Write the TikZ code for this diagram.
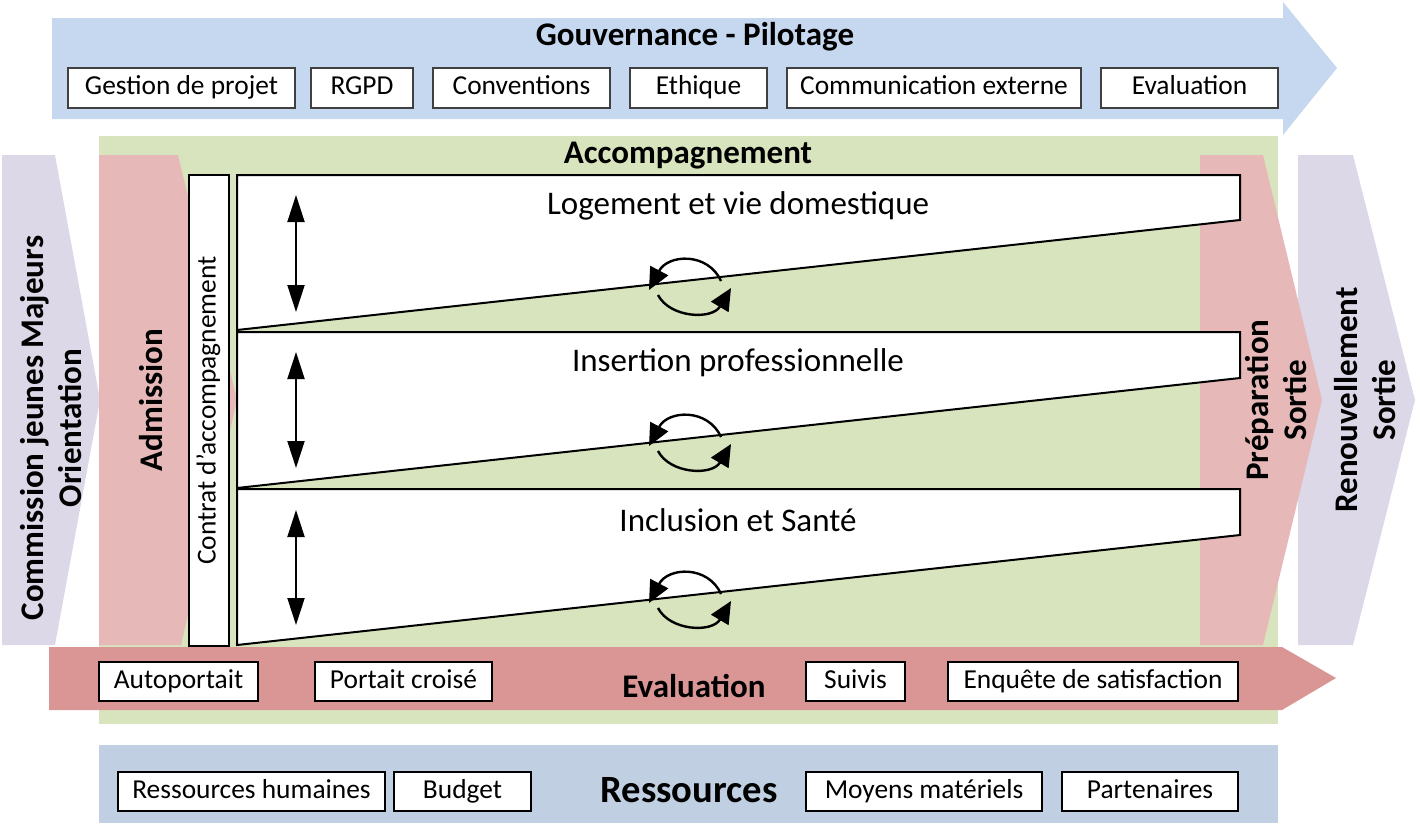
\documentclass[tikz,border=0pt]{standalone}
\usepackage{fontspec}
\setmainfont{Carlito}
\usetikzlibrary{arrows.meta}

\definecolor{govblue}{HTML}{C6D8EF}
\definecolor{accgreen}{HTML}{D7E4BD}
\definecolor{admred}{HTML}{E6B9B8}
\definecolor{orilav}{HTML}{DCD8E7}
\definecolor{evalred}{HTML}{D99694}
\definecolor{resblue}{HTML}{C1CFE2}

\tikzset{
	topbox/.style={draw=black!75, fill=white, line width=0.6pt, minimum height=20pt, inner sep=0pt, text height=9.6pt, text depth=2.9pt, font=\fontsize{13.7}{16}\selectfont},
	itembox/.style={draw=black, fill=white, line width=0.9pt, minimum height=19.5pt, inner sep=0pt, text height=9.6pt, text depth=2.9pt, font=\fontsize{13.7}{16}\selectfont},
	lane/.style={draw=black, fill=white, line width=1pt, line join=miter},
	title/.style={font=\bfseries\fontsize{16.5}{19}\selectfont, inner sep=0pt},
	sidetitle/.style={font=\bfseries\fontsize{16.5}{19}\selectfont, rotate=90, align=center, inner sep=0pt},
	lanetext/.style={font=\fontsize{16.5}{19}\selectfont, inner sep=0pt},
	dblarrow/.style={{Triangle[width=8.5pt,length=13.5pt]}-{Triangle[width=8.5pt,length=13.5pt]}, line width=1pt},
	cycarrow/.style={-{Triangle[width=10pt,length=11pt]}, line width=1.2pt}
}

\begin{document}
\begin{tikzpicture}[x=0.5pt,y=-0.5pt]
	\useasboundingbox (0,0) rectangle (1423,831);
	
	% Gouvernance
	\fill[govblue] (52,18) -- (1283,18) -- (1283,2) -- (1337,68) -- (1283,135) -- (1283,119) -- (52,119) -- cycle;
	\node[title] (gouv) at (695,37) {Gouvernance - Pilotage};
	\node[topbox, minimum width=113.5pt] (gestion) at (181.5,88) {Gestion de projet};
	\node[topbox, minimum width=51pt] (rgpd) at (362,88) {RGPD};
	\node[topbox, minimum width=88.5pt] (conv) at (521.5,88) {Conventions};
	\node[topbox, minimum width=68.5pt] (ethique) at (698.5,88) {Ethique};
	\node[topbox, minimum width=147pt] (comm) at (934,88) {Communication externe};
	\node[topbox, minimum width=88.5pt] (evalgouv) at (1189.5,88) {Evaluation};
	
	% Accompagnement
	\fill[accgreen] (99,136) rectangle (1278,724);
	\node[title] (accomp) at (688,156) {Accompagnement};
	
	% entree et sortie
	\fill[orilav] (2,155) -- (55,155) -- (100,400) -- (55,645) -- (2,645) -- cycle;
	\fill[admred] (99,155) -- (178,155) -- (237,400) -- (181,645) -- (99,645) -- cycle;
	\fill[orilav] (1298,155) -- (1353,155) -- (1415,400) -- (1353,645) -- (1298,645) -- cycle;
	\fill[admred] (1200,155) -- (1263,155) -- (1322,400) -- (1263,645) -- (1200,645) -- cycle;
	\node[sidetitle] (orient) at (51,428) {Commission jeunes Majeurs\\Orientation};
	\node[sidetitle] (admis) at (151,400) {Admission};
	\node[sidetitle] (prep) at (1276,400) {Préparation\\Sortie};
	\node[sidetitle] (renouv) at (1365,400) {Renouvellement\\Sortie};
	
	% Evaluation
	\fill[evalred] (49,647) -- (1282,647) -- (1336,678) -- (1282,710) -- (49,710) -- cycle;
	\node[title] (evalacc) at (694,686) {Evaluation};
	\node[itembox, minimum width=79.5pt] (auto) at (178.5,681.5) {Autoportait};
	\node[itembox, minimum width=88.5pt] (croise) at (403.5,681.5) {Portait croisé};
	\node[itembox, minimum width=49.5pt] (suivis) at (855.5,681.5) {Suivis};
	\node[itembox, minimum width=145pt] (enquete) at (1093,681.5) {Enquête de satisfaction};
	
	% Ressources
	\fill[resblue] (99,745) rectangle (1278,823);
	\node[font=\bfseries\fontsize{19.3}{22}\selectfont, inner sep=0pt] (ress) at (689,790) {Ressources};
	\node[itembox, minimum width=133.5pt] (rh) at (251.5,791.5) {Ressources humaines};
	\node[itembox, minimum width=68.5pt] (budget) at (462.5,791.5) {Budget};
	\node[itembox, minimum width=118pt] (moyens) at (924,791.5) {Moyens matériels};
	\node[itembox, minimum width=88pt] (parten) at (1150,791.5) {Partenaires};
	
	% contrat et axes
	\node[itembox, rotate=90, minimum width=235.5pt, minimum height=20pt] (contrat) at (209,410.5) {Contrat d’accompagnement};
	
	\draw[lane] (237,175) -- (1240,175) -- (1240,220) -- (237,330) -- cycle;
	\draw[lane] (237,332) -- (1240,332) -- (1240,378) -- (237,488) -- cycle;
	\draw[lane] (237,489) -- (1240,489) -- (1240,535) -- (237,645) -- cycle;
	\node[lanetext] (logement) at (738,206) {Logement et vie domestique};
	\node[lanetext] (insertion) at (738,363) {Insertion professionnelle};
	\node[lanetext] (inclusion) at (738,520) {Inclusion et Santé};
	
	\coordinate (logtop) at (296,195);
	\coordinate (logbot) at (296,312);
	\coordinate (instop) at (296,352);
	\coordinate (insbot) at (296,468);
	\coordinate (inctop) at (296,510);
	\coordinate (incbot) at (296,625);
	\draw[dblarrow] (logtop) -- (logbot);
	\draw[dblarrow] (instop) -- (insbot);
	\draw[dblarrow] (inctop) -- (incbot);
	
	% cycles
	\coordinate (logR) at (721,281); \coordinate (logL) at (649,290);
	\coordinate (logl) at (658,295); \coordinate (logr) at (731,288);
	\draw[cycarrow] (logR) .. controls (708,252) and (668,254) .. (logL);
	\draw[cycarrow] (logl) .. controls (670,318) and (712,320) .. (logr);
	
	\coordinate (insR) at (721,437); \coordinate (insL) at (649,446);
	\coordinate (insl) at (658,451); \coordinate (insr) at (731,444);
	\draw[cycarrow] (insR) .. controls (708,408) and (668,410) .. (insL);
	\draw[cycarrow] (insl) .. controls (670,474) and (712,476) .. (insr);
	
	\coordinate (incR) at (721,594); \coordinate (incL) at (649,603);
	\coordinate (incl) at (658,608); \coordinate (incr) at (731,601);
	\draw[cycarrow] (incR) .. controls (708,565) and (668,567) .. (incL);
	\draw[cycarrow] (incl) .. controls (670,631) and (712,633) .. (incr);
\end{tikzpicture}
\end{document}
